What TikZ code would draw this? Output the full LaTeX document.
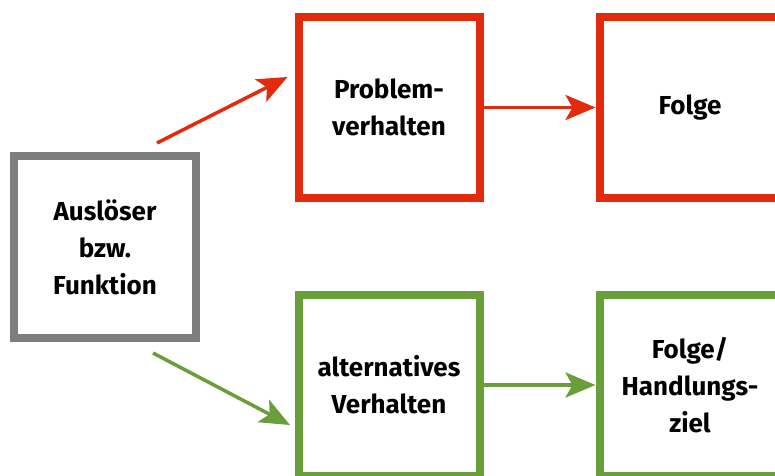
\documentclass[tikz,border=0pt]{standalone}
\usepackage{fontspec}
\setmainfont{Fira Sans}
\usetikzlibrary{arrows.meta}
\definecolor{boxgray}{RGB}{125,125,125}
\definecolor{boxred}{RGB}{226,42,12}
\definecolor{boxgreen}{RGB}{106,158,58}

\begin{document}
\begin{tikzpicture}[x=1pt,y=1pt,
  box/.style={draw,line width=8pt,fill=white,minimum width=181pt,minimum height=181pt,
    align=center,font=\fontsize{26}{37}\selectfont\bfseries},
  link/.style={line width=3.5pt,-{Stealth[length=30pt,width=25pt,inset=7pt]}}]
\clip (0,0) rectangle (775,475);
\fill[white] (0,0) rectangle (775,475);

% Boxen
\node[box,draw=boxgray,minimum width=182pt,minimum height=182pt] (trigger) at (105,228) {Auslöser\\bzw.\\Funktion};
\node[box,draw=boxred] (problem) at (389,367.5) {Problem-\\verhalten};
\node[box,draw=boxred] (result) at (690,367.5) {Folge};
\node[box,draw=boxgreen] (alternative) at (389,90) {alternatives\\Verhalten};
\node[box,draw=boxgreen] (goal) at (690,90) {Folge/\\Handlungs-\\ziel};

% Pfeile
\draw[link,boxred] ([xshift=52pt,yshift=9pt]trigger.north) -- ([xshift=-7pt,yshift=30.5pt]problem.west);
\draw[link,boxred] (problem) -- (result);
\draw[link,boxgreen] ([xshift=48pt,yshift=-11pt]trigger.south) -- ([xshift=-4.5pt,yshift=-40pt]alternative.west);
\draw[link,boxgreen] (alternative) -- (goal);
\end{tikzpicture}
\end{document}
